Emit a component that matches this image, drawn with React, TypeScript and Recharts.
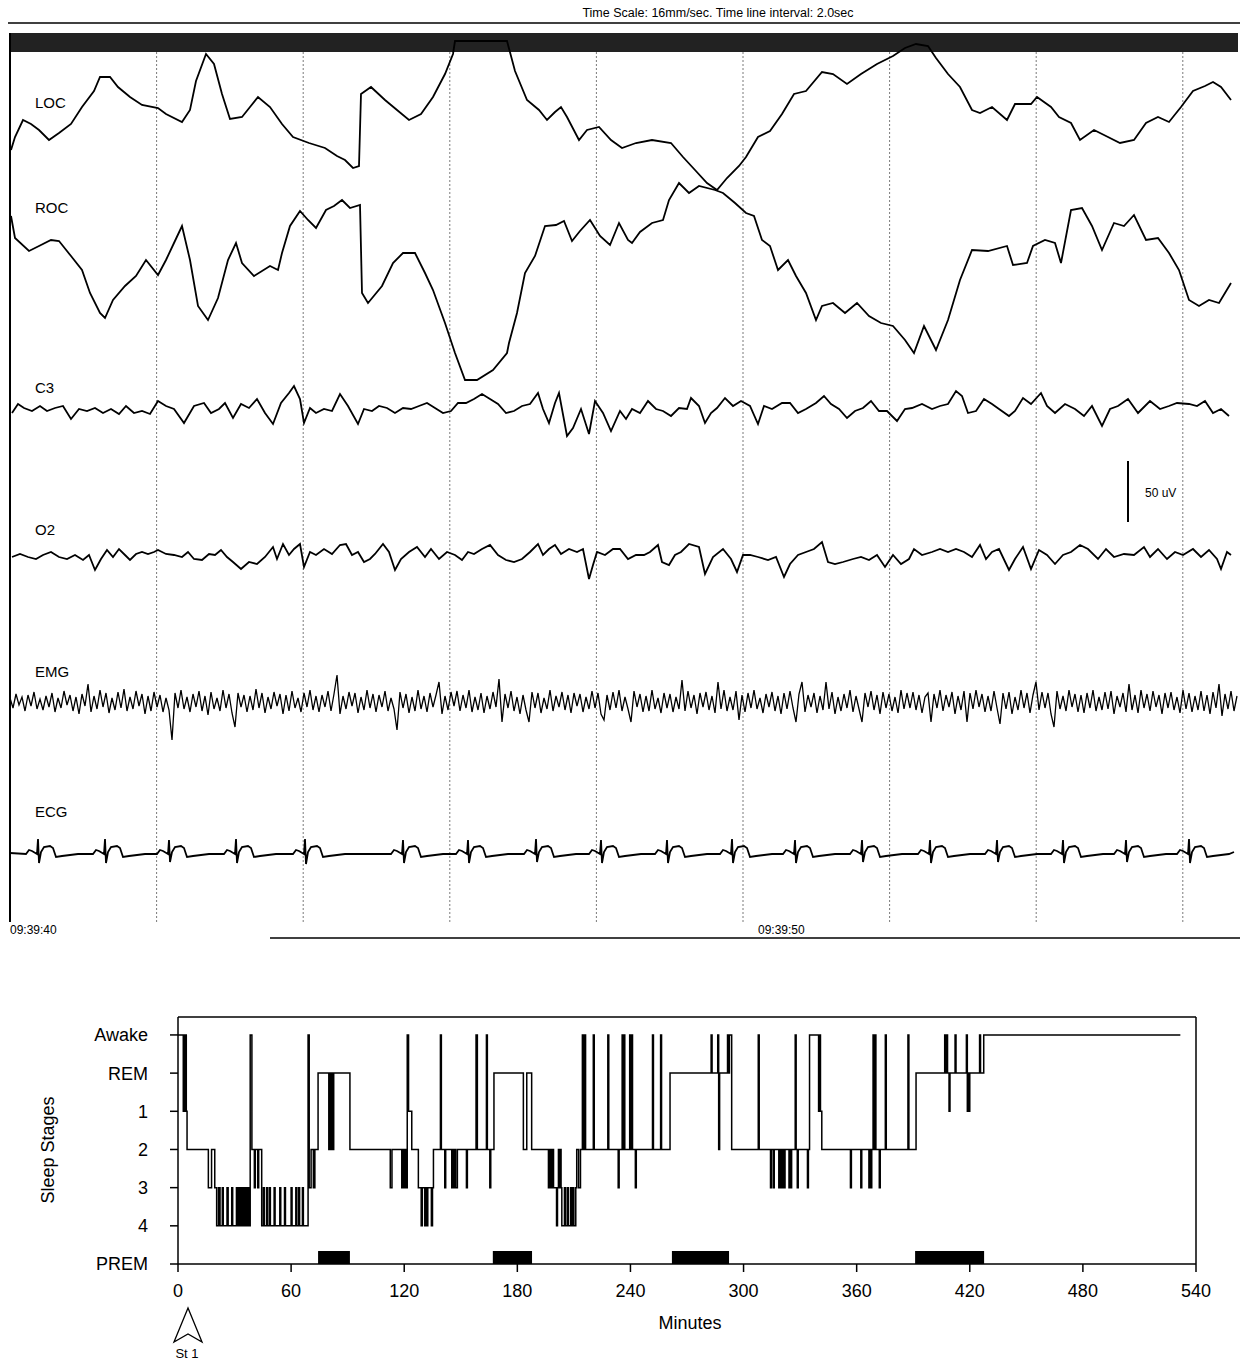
import React from "react";
import {
  ComposedChart,
  Line,
  XAxis,
  YAxis,
  ReferenceLine,
  ReferenceArea,
} from "recharts";

const FONT = "'Liberation Sans', Arial, Helvetica, sans-serif";

/* ---------------- polysomnography epoch (top panel) ---------------- */
// samples recorded at SAMPLE_RATE, epoch starts 09:39:40
const SAMPLE_RATE = 73.3;
const EPOCH_START_SEC = 9 * 3600 + 39 * 60 + 40;
const EPOCH_SAMPLES = 1228;
const GRID_SECONDS = [2, 4, 6, 8, 10, 12, 14, 16];
const TIME_LABEL_SECONDS = [0, 10];

// [sample, amplitude]
const locTrace: [number, number][] = [
  [1,-40],[5,-27],[13,-10],[21,-14],[29,-20],[39,-30],[49,-23],[61,-14],[72,3],[84,19],[90,33],[100,33],[108,23],[120,13],[132,5],[148,2],[156,-4],[172,-12],[180,0],[186,29],[196,56],[204,46],[212,16],[220,-9],[232,-7],[240,3],[248,13],[260,3],[272,-14],[283,-27],[299,-33],[315,-38],[327,-46],[335,-50],[343,-58],[349,-56],[351,16],[361,23],[375,10],[387,0],[399,-10],[411,-4],[423,13],[435,36],[443,56],[445,69],[497,69],[505,39],[517,10],[529,0],[537,-10],[545,-2],[551,3],[557,-7],[569,-30],[577,-20],[589,-17],[601,-30],[612,-38],[626,-33],[642,-30],[661,-33],[673,-47],[685,-60],[697,-73],[707,-80],[717,-68],[729,-56],[736,-47],[748,-27],[760,-21],[772,-4],[784,16],[796,19],[812,38],[823,36],[837,26],[851,36],[867,46],[883,54],[895,62],[906,66],[918,64],[926,52],[938,36],[950,23],[962,0],[970,-3],[982,3],[997,-10],[1005,6],[1021,6],[1027,13],[1041,3],[1049,-7],[1061,-13],[1070,-30],[1084,-20],[1096,-26],[1110,-33],[1124,-30],[1136,-13],[1148,-7],[1159,-12],[1171,3],[1183,19],[1195,24],[1203,28],[1211,23],[1221,10],
];

const rocTrace: [number, number][] = [
  [1,54],[5,32],[19,19],[29,24],[41,30],[49,29],[61,14],[72,0],[80,-23],[90,-43],[95,-48],[103,-30],[115,-16],[126,-6],[136,10],[148,-5],[156,10],[164,27],[172,44],[180,10],[188,-36],[198,-50],[208,-28],[218,10],[226,27],[232,7],[244,-6],[260,4],[268,0],[272,17],[280,44],[290,59],[298,50],[306,42],[316,60],[324,64],[332,70],[340,62],[350,65],[352,-23],[358,-33],[372,-16],[383,7],[393,17],[405,17],[415,-3],[423,-20],[435,-53],[445,-83],[455,-110],[467,-110],[483,-100],[497,-83],[499,-73],[507,-43],[515,-3],[525,14],[535,44],[546,45],[554,49],[562,29],[570,39],[580,50],[590,34],[600,25],[609,47],[618,30],[622,27],[630,38],[642,47],[653,50],[659,70],[669,87],[679,77],[689,84],[705,80],[713,77],[725,67],[736,57],[744,54],[752,30],[760,24],[768,0],[778,10],[786,-6],[796,-23],[806,-50],[812,-36],[823,-33],[835,-43],[847,-33],[859,-46],[871,-53],[883,-56],[895,-70],[904,-83],[914,-56],[926,-80],[938,-50],[950,-10],[962,20],[978,19],[997,24],[1003,5],[1017,7],[1023,24],[1035,30],[1045,27],[1051,7],[1061,60],[1072,62],[1082,44],[1092,20],[1104,47],[1114,44],[1124,55],[1136,30],[1148,32],[1159,17],[1169,0],[1179,-30],[1189,-36],[1199,-30],[1209,-33],[1221,-13],
];

const c3Trace: [number, number][] = [
  [2,-2],[8,7],[14,3],[22,0],[30,5],[37,0],[45,3],[53,5],[61,-8],[69,2],[77,0],[85,3],[93,-2],[101,2],[109,-3],[116,5],[124,-2],[132,0],[140,-3],[148,10],[156,5],[164,2],[174,-12],[184,5],[194,8],[201,-2],[209,2],[215,8],[223,-7],[231,7],[239,3],[247,12],[255,-2],[263,-13],[271,8],[279,18],[284,25],[290,12],[294,-12],[300,3],[306,-2],[314,2],[322,0],[330,17],[338,5],[348,-13],[354,2],[362,0],[369,5],[377,3],[385,-2],[393,3],[401,2],[409,5],[417,8],[425,3],[433,-2],[441,0],[448,8],[456,8],[464,12],[472,17],[480,12],[488,7],[496,-2],[504,0],[512,5],[520,7],[528,18],[533,2],[539,-12],[545,8],[549,18],[557,-25],[563,-17],[571,2],[579,-23],[585,10],[593,-2],[601,-20],
  [610,0],[616,-8],[622,2],[630,-2],[638,10],[646,2],[653,0],[661,-5],[669,3],[677,2],[681,13],[689,5],[695,-12],[701,-2],[707,3],[715,13],[723,5],[731,10],[740,5],[748,-13],[754,5],[762,2],[772,8],[780,8],[788,-2],[796,2],[806,8],[814,15],[821,7],[829,2],[837,-7],[845,0],[853,3],[861,10],[869,0],[877,0],[887,-10],[895,2],[902,3],[912,7],[922,2],[930,5],[938,7],[946,20],[952,15],[958,-2],[966,0],[974,12],[982,7],[989,2],[999,-5],[1005,0],[1013,13],[1021,7],[1031,18],[1037,5],[1045,-2],[1055,7],[1065,2],[1074,-5],[1082,5],[1092,-15],[1100,2],[1108,5],[1118,12],[1128,-2],[1140,10],[1150,2],[1159,5],[1167,8],[1179,7],[1187,5],[1195,10],[1203,-2],[1211,2],[1219,-5],
];

const o2Trace: [number, number][] = [
  [2,0],[10,3],[18,0],[26,-2],[33,2],[41,5],[49,0],[57,-2],[65,2],[73,-3],[79,2],[85,-13],[91,-2],[97,7],[103,0],[109,8],[115,2],[120,-3],[126,3],[132,5],[138,3],[144,5],[148,7],[156,3],[164,2],[172,0],[178,5],[184,-2],[192,-3],[199,3],[205,2],[211,7],[217,0],[223,-5],[231,-12],[239,-5],[247,-7],[255,0],[263,10],[267,-2],[273,13],[279,2],[284,8],[290,13],[294,-10],[300,5],[306,2],[314,8],[322,3],[330,12],[336,13],[342,2],[348,5],[354,-5],[360,-2],[365,3],[373,13],[379,5],[385,-13],[391,-2],[399,5],[407,10],[415,0],[421,8],[429,-2],[437,5],[445,2],[452,-3],[458,5],[464,3],[472,8],[480,12],[488,2],[496,-3],[504,-5],[512,-2],[520,5],[528,13],[533,2],[539,8],[545,12],[551,3],[559,8],[567,5],[573,8],[579,-22],[583,-8],[587,5],[595,2],[603,8],
  [610,8],[618,-2],[626,2],[634,2],[640,5],[648,12],[652,-5],[659,-8],[665,2],[671,5],[679,13],[689,10],[695,-17],[703,0],[713,8],[721,-2],[727,-15],[733,2],[740,2],[748,0],[758,-3],[766,0],[774,-20],[780,-7],[788,2],[796,5],[804,8],[812,15],[818,-5],[825,-7],[833,-5],[843,-2],[851,0],[859,-3],[867,2],[875,-10],[883,2],[891,-7],[899,-2],[904,8],[912,2],[922,5],[930,8],[938,5],[946,8],[954,5],[962,0],[970,12],[976,-2],[982,5],[989,8],[999,-13],[1005,-2],[1013,10],[1021,-12],[1029,7],[1037,2],[1045,-7],[1053,2],[1061,5],[1070,12],[1078,8],[1088,-2],[1096,8],[1104,0],[1114,3],[1124,2],[1134,10],[1140,0],[1148,8],[1157,-2],[1165,5],[1173,2],[1183,8],[1191,0],[1199,7],[1207,-2],[1211,-12],[1217,5],[1221,2],
];

// EMG sampled every EMG_STEP samples
const EMG_STEP = 3;
const emgValues: number[] = [
  4,-6,8,-3,5,-9,7,-4,10,-7,3,-8,6,-5,9,-10,4,-6,11,-3,
  7,-9,5,-12,8,-4,18,-10,6,-7,12,-5,9,-11,4,-8,10,-6,13,-9,
  5,-7,11,-4,8,-12,6,-9,10,-5,7,-10,4,-8,-38,9,-6,12,-7,5,
  -10,8,-5,11,-9,6,-13,10,-7,4,-9,12,-6,8,-11,-25,9,-5,7,-10,
  6,-8,13,-6,9,-11,5,-7,10,-4,8,-12,7,-9,11,-6,4,-10,9,-5,
  12,-8,6,-10,7,-5,11,-9,8,27,-12,6,-7,10,-4,9,-11,5,-8,12,
  -6,8,-10,7,-5,11,-9,4,-7,-28,10,-6,8,-11,5,-9,12,-7,6,-10,
  9,-5,7,20,-12,6,-8,10,-4,11,-9,7,-6,12,-10,5,-8,9,-11,6,
  -7,10,-5,23,-20,8,-6,11,-9,5,-12,7,-8,-20,10,-6,9,-11,4,-7,
  12,-9,6,-5,10,-8,7,-11,9,-4,8,-10,5,-7,11,-6,9,-12,-18,7,
  -8,10,-6,12,-9,5,-7,-20,11,-5,8,-10,6,-9,12,-7,4,-11,9,-6,
  8,-10,5,-7,22,-9,11,-6,7,-12,9,-5,10,-8,6,-11,20,-7,12,-9,
  5,-8,11,-18,7,-10,9,-6,12,-7,4,-11,8,-5,10,-9,6,-12,9,-7,
  11,-6,-20,8,20,-10,7,-5,9,-11,6,-8,20,-7,10,-12,5,-9,8,-6,
  12,-10,6,-7,-20,9,-5,11,-8,7,-12,10,-6,8,-9,5,-11,12,-7,9,
  -6,10,-8,7,-11,5,9,-20,8,-6,12,-9,7,-5,10,-12,6,-8,11,-20,
  9,-7,12,-5,8,-10,6,-9,11,-6,-22,9,-7,10,-12,5,-8,12,-6,9,
  -11,7,20,-8,10,-6,9,-12,-25,11,-7,6,-9,12,-5,8,-10,7,-11,9,
  -6,12,-9,5,-8,10,-7,11,-12,6,-5,9,-10,18,-8,7,-11,12,-6,8,
  -9,11,-5,7,-12,9,-6,10,-8,5,-11,12,-7,9,-10,6,-8,11,-9,7,
  -12,10,-6,18,-14,8,-7,11,-9,6,
];

const ecgTrace: [number, number][] = [
  [0,-1],
  [16,-2],[19,2],[22,1],[27,-2],[28,13],[29,-11],[31,0],[34,5],[40,6],[43,4],[46,-5],[52,-4],[68,-2],
  [83,-2],[86,2],[89,1],[94,-2],[95,13],[96,-11],[98,0],[101,5],[107,6],[110,4],[113,-5],[119,-4],[135,-2],
  [147,-2],[150,2],[153,1],[158,-2],[159,12],[160,-10],[162,0],[165,5],[171,6],[174,4],[177,-5],[183,-4],[199,-2],
  [214,-2],[217,2],[220,1],[225,-2],[226,13],[227,-11],[229,0],[232,5],[238,6],[241,4],[244,-5],[250,-4],[266,-2],
  [283,-2],[286,2],[289,1],[294,-2],[295,13],[296,-12],[298,0],[301,5],[307,6],[310,4],[313,-5],[319,-4],[335,-2],
  [381,-2],[384,2],[387,1],[392,-2],[393,12],[394,-11],[396,0],[399,5],[405,6],[408,4],[411,-5],[417,-4],[433,-2],
  [446,-2],[449,2],[452,1],[457,-2],[458,12],[459,-11],[461,0],[464,5],[470,6],[473,4],[476,-5],[482,-4],[498,-2],
  [514,-2],[517,2],[520,1],[525,-2],[526,13],[527,-10],[529,0],[532,5],[538,6],[541,4],[544,-5],[550,-4],[566,-2],
  [579,-2],[582,2],[585,1],[590,-2],[591,12],[592,-11],[594,0],[597,5],[603,6],[606,4],[609,-5],[615,-4],[631,-2],
  [645,-2],[648,2],[651,1],[656,-2],[657,12],[658,-11],[660,0],[663,5],[669,6],[672,4],[675,-5],[681,-4],[697,-2],
  [710,-2],[713,2],[716,1],[721,-2],[722,13],[723,-11],[725,0],[728,5],[734,6],[737,4],[740,-5],[746,-4],[762,-2],
  [773,-2],[776,2],[779,1],[784,-2],[785,12],[786,-11],[788,0],[791,5],[797,6],[800,4],[803,-5],[809,-4],[825,-2],
  [840,-2],[843,2],[846,1],[851,-2],[852,12],[853,-10],[855,0],[858,5],[864,6],[867,4],[870,-5],[876,-4],[892,-2],
  [908,-2],[911,2],[914,1],[919,-2],[920,12],[921,-11],[923,0],[926,5],[932,6],[935,4],[938,-5],[944,-4],[960,-2],
  [975,-2],[978,2],[981,1],[986,-2],[987,12],[988,-10],[990,0],[993,5],[999,6],[1002,4],[1005,-5],[1011,-4],[1027,-2],
  [1041,-2],[1044,2],[1047,1],[1052,-2],[1053,12],[1054,-11],[1056,0],[1059,5],[1065,6],[1068,4],[1071,-5],[1077,-4],[1093,-2],
  [1104,-2],[1107,2],[1110,1],[1115,-2],[1116,12],[1117,-10],[1119,0],[1122,5],[1128,6],[1131,4],[1134,-5],[1140,-4],[1156,-2],
  [1167,-2],[1170,2],[1173,1],[1178,-2],[1179,13],[1180,-11],[1182,0],[1185,5],[1191,6],[1194,4],[1197,-5],[1203,-4],[1219,-2],
  [1224,0],
];

const channelNames = ["LOC", "ROC", "C3", "O2", "EMG", "ECG"];

/* ---------------- hypnogram (bottom panel) ---------------- */
const stageLabels = ["PREM", "4", "3", "2", "1", "REM", "Awake"];
const minuteTicks = [0, 60, 120, 180, 240, 300, 360, 420, 480, 540];
// [minute, stage index] (6 Awake, 5 REM, 4 S1, 3 S2, 2 S3, 1 S4)
const hypnogram: [number, number][] = [
  [0,6],[2.8,4],[3.2,6],[3.6,4],[4.0,6],[4.4,4],[4.8,3],
  [16.1,2],[17.8,3],[19.5,2],
  [20.5,1],[21.5,2],[22.3,1],[23.5,2],[24.0,1],[26.0,2],[26.6,1],[28.5,2],[29.0,1],[31.0,2],[31.5,1],[32.3,2],[32.8,1],[33.5,2],[34.0,1],[34.6,2],[35.1,1],[35.8,2],[36.3,1],[37.0,2],[37.5,1],
  [38.3,6],[39.2,3],[40.5,2],[41.0,3],[42.3,2],[42.8,3],
  [44.4,1],[45.3,2],[45.8,1],[47.0,2],[47.5,1],[48.5,2],[49.0,1],[51.0,2],[51.5,1],[54.0,2],[54.5,1],[56.5,2],[57.0,1],[60.0,2],[60.5,1],[62.5,2],[63.0,1],[64.0,2],[64.5,1],[66.0,2],[66.5,1],
  [69.0,6],[69.6,2],[70.6,3],[71.8,2],[72.6,3],
  [74.3,5],[80.0,3],[80.5,5],[81.0,3],[81.5,5],[82.0,3],[82.6,5],
  [91.2,3],[112.6,2],[113.5,3],
  [118.7,2],[119.3,3],[119.8,2],[120.4,3],[121.0,2],[121.6,6],[122.3,4],[124.0,3],
  [127.5,2],[129.0,1],[129.6,2],[130.9,1],[131.5,2],[132.0,1],[132.5,2],[134.4,1],[135.0,2],[135.5,3],
  [139.2,6],[139.7,3],[141.5,2],[142.0,3],
  [145.2,2],[145.7,3],[146.2,2],[146.8,3],[147.3,2],[148.2,3],
  [153.0,2],[153.5,3],
  [158.1,6],[158.8,3],[163.6,6],[164.1,3],[165.4,2],[165.9,3],
  [167.6,5],[183.2,3],[185.0,5],[187.6,3],
  [196.5,2],[197.0,3],[197.4,2],[197.9,3],[198.3,2],[198.8,3],[199.2,2],[200.8,1],[201.3,2],[201.8,3],[202.2,2],[202.7,3],[203.2,2],[203.6,1],[205.0,2],[205.5,1],[206.5,2],[207.0,1],[208.2,2],[208.7,1],[209.5,2],[210.0,1],[211.0,2],
  [211.5,3],[212.5,2],[213.5,3],[214.5,6],[215.0,3],[215.5,6],[216.2,3],
  [220.3,6],[220.8,3],[228.0,6],[228.5,3],[233.5,2],[234.0,3],[235.6,6],[236.1,3],[236.5,6],[237.0,3],[239.6,6],[240.1,3],[240.6,6],[241.1,3],[242.6,2],[243.1,3],[251.7,6],[252.2,3],[256.0,6],[256.5,3],
  [261.0,5],[282.8,6],[283.3,5],[286.3,6],[286.8,3],[287.3,5],[291.5,6],[292.0,5],[292.5,6],[293.7,3],
  [307.8,6],[308.3,3],[314.3,2],[314.8,3],[315.8,2],[316.3,3],[318.7,2],[319.2,3],[319.6,2],[320.1,3],[320.5,2],[321.0,3],[321.4,2],[322.0,3],[324.1,2],[324.6,3],[325.0,2],[325.5,3],[327.4,6],[327.9,3],[328.5,2],[329.0,3],[333.9,2],[334.4,3],
  [335.0,6],[339.8,4],[340.3,6],[340.8,4],[341.5,3],
  [356.7,2],[357.2,3],[362.2,2],[362.7,3],[366.5,2],[367.0,3],[367.5,2],[368.0,3],[368.7,6],[369.2,3],[369.7,6],[370.2,3],[372.0,2],[372.5,3],[375.2,6],[375.7,3],[387.2,6],[387.7,3],
  [391.5,5],[406.7,6],[407.2,5],[407.7,6],[408.2,5],[409.0,4],[409.5,5],[412.2,6],[412.7,5],[418.2,6],[418.7,4],[419.2,5],[419.6,4],[420.0,5],[425.2,6],[425.7,5],[427.4,6],[531.7,6],
];
// predicted REM periods [start, end] minutes
const premPeriods: [number, number][] = [
  [74.3, 91.2],
  [167.0, 187.8],
  [262.0, 292.3],
  [391.0, 427.6],
];

/* ---------------- layout constants ---------------- */
const TOP_Y0 = 33;
const TOP_Y1 = 922;
const BAR_BOTTOM = 52;
const BASE = { LOC: 110, ROC: 270, C3: 411, O2: 557, EMG: 702, ECG: 852 };
const LABEL_Y = { LOC: 108, ROC: 213, C3: 393, O2: 535, EMG: 677, ECG: 817 };
const HYP_TOP = 6.47;
const PREM_H = 0.34;

const toSeries = (pts: [number, number][], base: number) =>
  pts.map(([s, v]) => ({ t: s, y: base - v }));

const locData = toSeries(locTrace, BASE.LOC);
const rocData = toSeries(rocTrace, BASE.ROC);
const c3Data = toSeries(c3Trace, BASE.C3);
const o2Data = toSeries(o2Trace, BASE.O2);
const emgData = emgValues.map((v, i) => ({ t: i * EMG_STEP, y: BASE.EMG - v }));
const ecgData = toSeries(ecgTrace, BASE.ECG);
const hypData = hypnogram.map(([m, s]) => ({ m, s }));

const pad = (n: number) => String(n).padStart(2, "0");
const clock = (sec: number) => {
  const h = Math.floor(sec / 3600);
  const m = Math.floor((sec % 3600) / 60);
  const s = Math.round(sec % 60);
  return `${pad(h)}:${pad(m)}:${pad(s)}`;
};

const TimeTick = (props: any) => {
  const { x, y, payload, index } = props;
  return (
    <text
      x={x + (index === 0 ? 0 : 15)}
      y={y}
      dy="0.71em"
      fontSize={12}
      fontFamily={FONT}
      fill="#000"
      textAnchor="start"
    >
      {clock(EPOCH_START_SEC + payload.value / SAMPLE_RATE)}
    </text>
  );
};

const traceProps = {
  dataKey: "y",
  type: "linear" as const,
  stroke: "#000",
  strokeWidth: 1.8,
  dot: false,
  activeDot: false,
  isAnimationActive: false,
};

export default function App() {
  return (
    <div
      style={{
        position: "absolute",
        left: 0,
        top: 0,
        width: 1240,
        height: 1361,
        background: "#fff",
        fontFamily: FONT,
      }}
    >
      <div style={{ position: "absolute", left: 0, top: 0 }}>
        <ComposedChart
          width={1240}
          height={945}
          margin={{ top: TOP_Y0, right: 2, bottom: 8, left: 10 }}
        >
          <XAxis
            xAxisId={0}
            type="number"
            dataKey="t"
            domain={[0, EPOCH_SAMPLES]}
            ticks={TIME_LABEL_SECONDS.map((s) => s * SAMPLE_RATE)}
            axisLine={false}
            tickLine={false}
            tickSize={0}
            tickMargin={3}
            height={15}
            tick={(p: any) => <TimeTick {...p} />}
            allowDataOverflow
          />
          <YAxis
            yAxisId={0}
            type="number"
            hide
            reversed
            domain={[TOP_Y0, TOP_Y1]}
            allowDataOverflow
          />
          {GRID_SECONDS.map((s) => (
            <ReferenceLine
              key={s}
              segment={[
                { x: s * SAMPLE_RATE, y: BAR_BOTTOM },
                { x: s * SAMPLE_RATE, y: TOP_Y1 },
              ]}
              stroke="#7a7a7a"
              strokeWidth={1}
              strokeDasharray="2 2"
            />
          ))}
          <ReferenceLine x={0} stroke="#000" strokeWidth={2} />
          <ReferenceArea
            y1={TOP_Y0}
            y2={BAR_BOTTOM}
            fill="#222"
            fillOpacity={1}
            stroke="none"
          />
          <Line data={locData} name="LOC" {...traceProps} />
          <Line data={rocData} name="ROC" {...traceProps} />
          <Line data={c3Data} name="C3" {...traceProps} />
          <Line data={o2Data} name="O2" {...traceProps} />
          <Line data={emgData} name="EMG" {...traceProps} strokeWidth={1.3} />
          <Line data={ecgData} name="ECG" {...traceProps} />
        </ComposedChart>
      </div>

      <div style={{ position: "absolute", left: 0, top: 1000 }}>
        <ComposedChart
          width={1240}
          height={361}
          data={hypData}
          margin={{ top: 17, right: 44, bottom: 57, left: 0 }}
        >
          <XAxis
            type="number"
            dataKey="m"
            domain={[0, 540]}
            ticks={minuteTicks}
            tickSize={8}
            tickMargin={12}
            height={40}
            axisLine={{ stroke: "#000", strokeWidth: 1.5 }}
            tickLine={{ stroke: "#000", strokeWidth: 1.5 }}
            tick={{ fill: "#000", fontSize: 18, fontFamily: FONT }}
            allowDataOverflow
          />
          <YAxis
            type="number"
            domain={[0, HYP_TOP]}
            ticks={[0, 1, 2, 3, 4, 5, 6]}
            tickFormatter={(v: number) => stageLabels[v]}
            width={178}
            tickSize={8}
            tickMargin={22}
            axisLine={{ stroke: "#000", strokeWidth: 1.5 }}
            tickLine={{ stroke: "#000", strokeWidth: 1.5 }}
            tick={{ fill: "#000", fontSize: 18, fontFamily: FONT }}
            allowDataOverflow
          />
          <ReferenceLine y={HYP_TOP} stroke="#000" strokeWidth={1.5} ifOverflow="visible" />
          <ReferenceLine x={540} stroke="#000" strokeWidth={1.5} ifOverflow="visible" />
          {premPeriods.map(([a, b]) => (
            <ReferenceArea
              key={a}
              x1={a}
              x2={b}
              y1={0}
              y2={PREM_H}
              fill="#000"
              fillOpacity={1}
              stroke="none"
            />
          ))}
          <Line
            dataKey="s"
            type="stepAfter"
            stroke="#000"
            strokeWidth={1.5}
            dot={false}
            activeDot={false}
            isAnimationActive={false}
          />
        </ComposedChart>
      </div>

      <svg
        width={1240}
        height={1361}
        style={{ position: "absolute", left: 0, top: 0, pointerEvents: "none" }}
        fontFamily={FONT}
      >
        <text x={718} y={17} fontSize={12.5} textAnchor="middle" fill="#000">
          Time Scale: 16mm/sec.  Time line interval: 2.0sec
        </text>
        <line x1={8} x2={1240} y1={23} y2={23} stroke="#000" strokeWidth={1.5} />
        {channelNames.map((n) => (
          <text
            key={n}
            x={35}
            y={(LABEL_Y as any)[n]}
            fontSize={15}
            fill="#000"
          >
            {n}
          </text>
        ))}
        <line x1={1128} x2={1128} y1={461} y2={522} stroke="#000" strokeWidth={2} />
        <text x={1145} y={497} fontSize={12} fill="#000">
          50 uV
        </text>
        <line x1={270} x2={1240} y1={938} y2={938} stroke="#000" strokeWidth={1.5} />

        <text
          x={0}
          y={0}
          fontSize={18}
          fill="#000"
          textAnchor="middle"
          transform="translate(54 1150) rotate(-90)"
        >
          Sleep Stages
        </text>
        <text x={690} y={1329} fontSize={18} fill="#000" textAnchor="middle">
          Minutes
        </text>
        <polygon
          points="188,1308 174,1342 188,1334 202,1342"
          fill="#fff"
          stroke="#000"
          strokeWidth={1.3}
        />
        <text x={187} y={1358} fontSize={13} fill="#000" textAnchor="middle">
          St 1
        </text>
      </svg>
    </div>
  );
}
